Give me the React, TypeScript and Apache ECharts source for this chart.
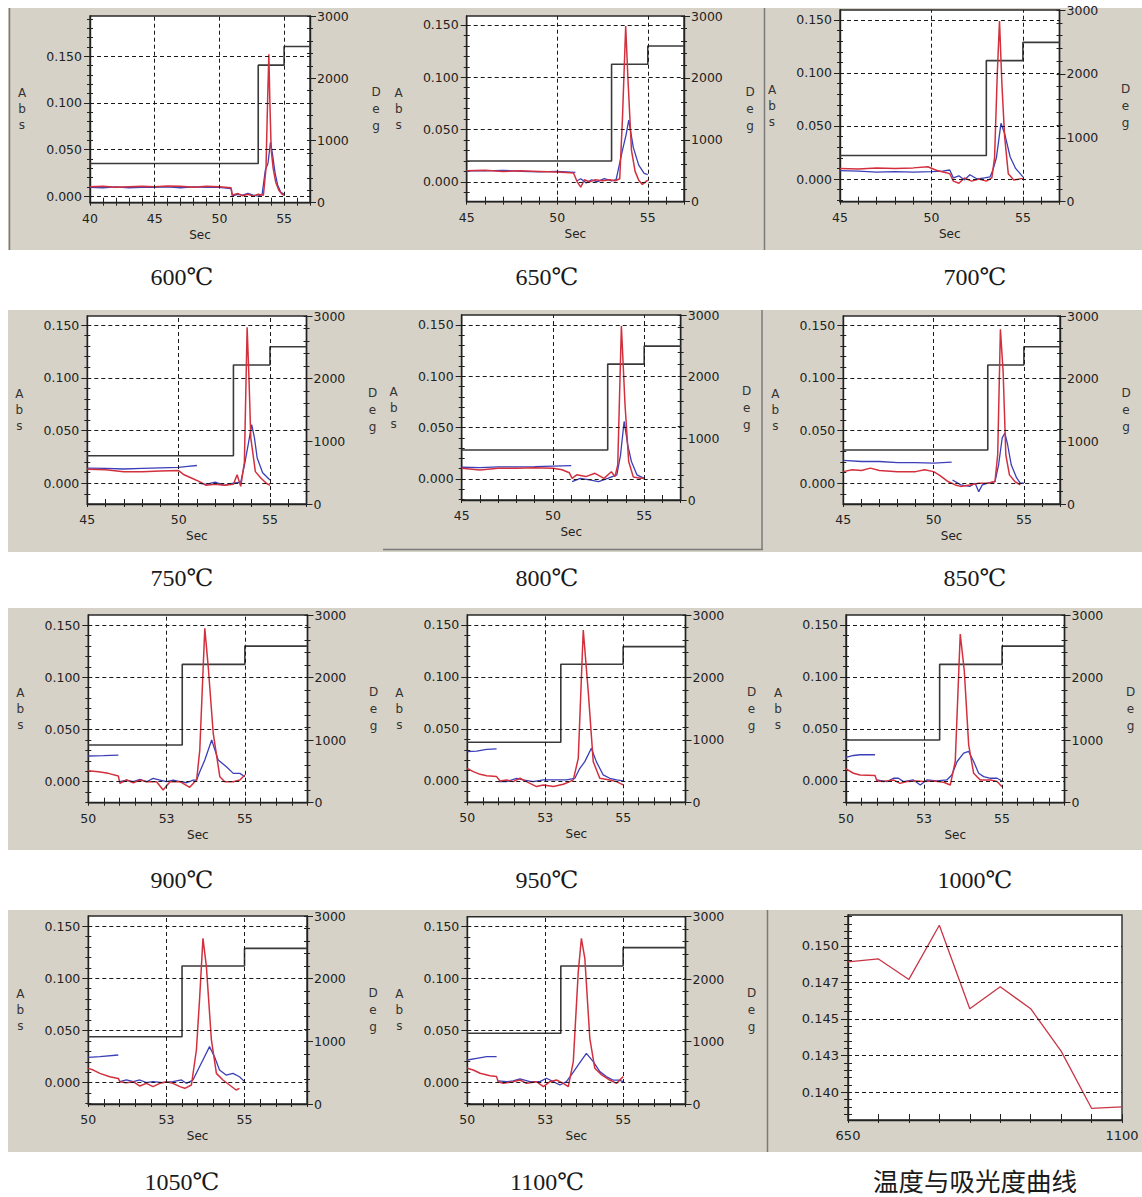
import React, { useEffect, useRef } from "react";
import * as echarts from "echarts";

// ---------- data: [Sec, Abs] pairs; null = break in the trace ----------
const red600 = [[40,0.010],[41,0.0105],[42,0.0095],[43,0.010],[44,0.0105],[45,0.010],[46,0.011],[47,0.0105],[48,0.0095],[49,0.0105],[50,0.010],[50.9,0.009],[51.0,0.001],[51.4,0.003],[51.8,0.0005],[52.2,0.002],[52.6,0.0],[53.0,0.002],[53.4,0.001],[53.6,0.03],[53.72,0.10],[53.82,0.152],[53.9,0.10],[54.0,0.05],[54.15,0.03],[54.35,0.015],[54.6,0.006],[54.85,0.002],[55,0.001]];
const blue600 = [[40,0.0095],[41,0.009],[42,0.010],[43,0.009],[44,0.0095],[45,0.0095],[46,0.010],[47,0.009],[48,0.010],[49,0.0095],[50,0.0095],[50.9,0.008],[51.0,0.0],[51.4,0.002],[51.8,0.001],[52.2,0.003],[52.6,0.001],[53.0,0.0],[53.3,0.002],[53.55,0.028],[53.75,0.035],[53.95,0.058],[54.1,0.045],[54.3,0.025],[54.5,0.012],[54.75,0.004],[55,0.002]];
const prog600 = [[40,630],[53,2210],[55,2510],[57,2510]];

const red650 = [[45,0.0105],[46,0.011],[47,0.010],[48,0.0105],[49,0.010],[50,0.0095],[50.9,0.0085],[51.1,0.0],[51.3,-0.005],[51.5,0.002],[51.8,0.0],[52.1,0.002],[52.5,0.001],[52.9,0.002],[53.2,0.001],[53.45,0.003],[53.6,0.06],[53.78,0.149],[53.9,0.10],[54.1,0.03],[54.3,0.01],[54.5,0.0016],[54.7,-0.0025],[55,0.0016]];
const blue650 = [[45,0.0105],[46,0.0105],[47,0.011],[48,0.010],[49,0.0095],[50,0.010],[51,0.009],[51.05,null],[51.1,0.001],[51.3,0.003],[51.6,-0.001],[51.9,0.002],[52.2,0.0],[52.6,0.003],[53.0,0.001],[53.25,0.002],[53.35,0.01],[53.6,0.03],[53.8,0.045],[53.95,0.059],[54.2,0.033],[54.5,0.016],[54.8,0.008],[55,0.007]];
const prog650 = [[45,657],[53,2220],[55,2515],[57,2515]];

const red700 = [[45,0.010],[46,0.0095],[47,0.0105],[48,0.010],[49,0.0105],[49.8,0.0115],[50.3,0.008],[50.8,0.006],[51.0,0.005],[51.2,-0.002],[51.5,-0.004],[51.8,0.001],[52.2,-0.002],[52.6,0.0],[53.0,-0.002],[53.3,0.001],[53.45,0.02],[53.6,0.10],[53.72,0.149],[53.85,0.09],[54.0,0.04],[54.2,0.005],[54.5,-0.001],[54.8,0.0],[55,0.0006]];
const blue700 = [[45,0.008],[46,0.0075],[47,0.0065],[48,0.007],[49,0.0065],[50,0.007],[50.6,0.0075],[51,0.0085],[51.2,0.001],[51.5,0.003],[51.8,-0.001],[52.1,0.004],[52.5,0.0],[52.9,0.001],[53.2,0.002],[53.35,0.008],[53.55,0.02],[53.8,0.0525],[54.0,0.043],[54.3,0.021],[54.6,0.01],[55,0.002]];
const prog700 = [[45,723],[53,2208],[55,2494],[57,2494]];

const red750 = [[45,0.0133],[46,0.0127],[47,0.011],[48,0.011],[49,0.0115],[50,0.012],[50.3,0.008],[50.7,0.005],[51.2,0.001],[51.5,-0.002],[52,-0.001],[52.5,-0.002],[53,-0.001],[53.2,0.008],[53.4,-0.003],[53.6,0.02],[53.75,0.148],[53.85,0.10],[53.95,0.043],[54.2,0.011],[54.5,0.005],[54.8,0.0],[55,-0.002]];
const blue750 = [[45,0.0143],[46,0.014],[47,0.0135],[48,0.014],[49,0.0145],[50,0.015],[50.5,0.016],[51,0.0168],[51.05,null],[51.1,0.0],[51.5,-0.001],[52,0.001],[52.5,-0.002],[53,0.0],[53.4,0.001],[53.6,0.017],[53.8,0.036],[54.0,0.0555],[54.15,0.043],[54.3,0.024],[54.6,0.01],[55,0.003]];
const prog750 = [[45,770],[53,2217],[55,2509],[57,2509]];

const red800 = [[45,0.0104],[46,0.0088],[47,0.0104],[48,0.0104],[49,0.011],[50,0.0104],[50.5,0.009],[50.9,0.006],[51.05,0.0006],[51.3,0.004],[51.8,0.0023],[52.3,0.0055],[52.8,0.0006],[53.2,0.007],[53.4,0.0023],[53.55,0.0136],[53.75,0.149],[53.95,0.072],[54.15,0.017],[54.4,0.002],[54.8,0.0006],[55,0.0006]];
const blue800 = [[45,0.0114],[46,0.011],[47,0.0117],[48,0.0117],[49,0.012],[50,0.0125],[51,0.013],[51.03,null],[51.05,-0.0026],[51.5,0.0006],[52,-0.001],[52.5,-0.0026],[53,0.0006],[53.5,0.004],[53.7,0.023],[53.9,0.056],[54.1,0.033],[54.3,0.017],[54.6,0.004],[55,0.0006]];
const prog800 = [[45,810],[53,2204],[55,2496],[57,2496]];

const red850 = [[45,0.011],[45.5,0.0127],[46,0.012],[46.5,0.0143],[47,0.012],[48,0.011],[49,0.011],[49.5,0.0127],[50,0.011],[50.3,0.0079],[50.8,0.0016],[51.2,-0.0016],[51.5,-0.003],[52,-0.0016],[52.5,0.0],[53,0.0],[53.4,0.0016],[53.55,0.027],[53.7,0.146],[53.85,0.106],[54.0,0.027],[54.2,0.0079],[54.5,0.0016],[54.8,-0.0016]];
const blue850 = [[45,0.0216],[46,0.0206],[47,0.0206],[48,0.0196],[49,0.0196],[50,0.019],[51,0.020],[51.03,null],[51.05,0.003],[51.5,-0.0016],[52,-0.003],[52.3,0.0],[52.5,-0.008],[52.7,-0.0016],[53,0.0],[53.4,0.0016],[53.6,0.0175],[53.8,0.043],[53.95,0.0476],[54.1,0.0365],[54.3,0.0175],[54.6,0.005],[54.8,0.0],[55,0.0]];
const prog850 = [[45,861],[53,2217],[55,2509],[57,2509]];

const red900 = [[50,0.0105],[50.32,0.0096],[50.64,0.008],[50.96,0.0054],[51.01,-0.0016],[51.22,0.0016],[51.44,-0.001],[51.65,0.0016],[51.86,0.0],[52.18,0.0],[52.39,-0.008],[52.61,0.0],[52.93,0.0],[53.24,-0.0054],[53.4,0.0],[53.46,0.0016],[53.56,0.0303],[53.72,0.1468],[53.83,0.110],[53.99,0.0463],[54.2,0.0048],[54.36,0.0],[54.63,0.0],[54.84,0.0016],[55,0.0064]];
const blue900 = [[50,0.0246],[50.48,0.0249],[50.96,0.0255],[50.99,null],[51.01,0.0],[51.22,0.0016],[51.44,0.0],[51.65,0.0022],[51.86,0.0],[52.07,0.0032],[52.29,0.0016],[52.5,0.0],[52.71,0.0016],[52.93,0.0],[53.14,-0.001],[53.35,0.0016],[53.46,0.0016],[53.56,0.0096],[53.72,0.0207],[53.94,0.0399],[54.15,0.0207],[54.41,0.0144],[54.63,0.008],[54.84,0.008],[55,0.0048]];
const prog900 = [[50,922],[53,2211],[55,2503],[57,2503]];

const red950 = [[50,0.0122],[50.19,0.009],[50.41,0.0064],[50.62,0.0051],[50.94,0.0042],[51.05,0.0],[51.26,0.001],[51.47,-0.0006],[51.69,0.0026],[51.9,-0.0006],[52.22,-0.0054],[52.44,-0.0038],[52.76,-0.0054],[53.08,-0.0032],[53.29,-0.0006],[53.4,0.001],[53.56,0.0218],[53.72,0.1452],[53.88,0.0859],[54.04,0.0186],[54.25,0.0026],[54.57,0.001],[54.79,-0.0006],[55,-0.0038]];
const blue950 = [[50,0.0282],[50.3,0.0288],[50.62,0.0304],[50.94,0.0308],[50.97,null],[51.0,-0.0006],[51.26,-0.0006],[51.58,0.0026],[51.79,0.001],[52.11,-0.0006],[52.44,0.001],[52.76,0.001],[53.18,0.001],[53.45,0.0026],[53.61,0.0122],[53.77,0.0186],[53.98,0.0314],[54.14,0.0186],[54.36,0.0058],[54.57,0.0026],[54.79,0.001],[55,0.0]];
const prog950 = [[50,961],[53,2211],[55,2494],[57,2494]];

const red1000 = [[50,0.0116],[50.24,0.0074],[50.45,0.0058],[50.93,0.0052],[50.99,0.0],[51.2,-0.0006],[51.52,0.001],[51.73,-0.0023],[51.95,-0.0006],[52.27,0.0],[52.48,-0.0006],[52.81,0.0],[53.13,-0.0013],[53.34,-0.0039],[53.5,0.0187],[53.66,0.1413],[53.79,0.1058],[53.93,0.0348],[54.09,0.0074],[54.3,0.001],[54.63,0.001],[54.84,-0.0006],[55,-0.0055]];
const blue1000 = [[50,0.0226],[50.24,0.0245],[50.45,0.0252],[50.93,0.0252],[50.96,null],[50.99,0.001],[51.31,-0.0006],[51.52,0.0026],[51.68,0.0026],[51.84,-0.0006],[52.16,0.001],[52.38,-0.0039],[52.59,0.001],[52.91,0.0],[53.23,0.001],[53.39,0.0058],[53.56,0.0187],[53.77,0.0268],[53.93,0.0284],[54.09,0.0187],[54.25,0.0074],[54.41,0.0042],[54.63,0.0026],[54.84,0.0026],[55,0.0]];
const prog1000 = [[50,1002],[53,2211],[55,2503],[57,2503]];

const red1050 = [[50,0.0137],[50.16,0.0121],[50.37,0.0089],[50.69,0.0057],[50.96,0.0041],[51.01,0.001],[51.22,0.0],[51.44,0.001],[51.65,-0.0032],[51.86,-0.0006],[52.07,-0.0038],[52.29,-0.0006],[52.5,0.001],[52.71,-0.0006],[52.93,-0.0038],[53.09,-0.0054],[53.3,-0.0022],[53.46,0.0313],[53.56,0.0792],[53.67,0.1382],[53.78,0.1111],[53.94,0.0409],[54.1,0.0089],[54.31,0.0026],[54.52,-0.0022],[54.73,-0.007],[54.84,-0.0054]];
const blue1050 = [[50,0.0243],[50.37,0.0249],[50.96,0.0265],[50.99,null],[51.01,0.001],[51.22,0.0026],[51.44,0.001],[51.65,0.0026],[51.86,0.0],[52.07,0.001],[52.39,0.0],[52.71,0.001],[52.98,0.0026],[53.14,-0.0006],[53.35,0.0026],[53.56,0.0153],[53.72,0.0249],[53.88,0.0345],[54.04,0.0249],[54.2,0.0121],[54.41,0.0073],[54.63,0.0089],[54.84,0.0057],[55,0.001]];
const prog1050 = [[50,1073],[53,2201],[55,2483],[57,2483]];

const red1100 = [[50,0.0135],[50.19,0.0119],[50.41,0.0087],[50.73,0.0064],[50.94,0.0055],[50.99,0.0006],[51.15,-0.001],[51.47,0.0006],[51.69,0.0022],[51.9,-0.001],[52.22,0.0006],[52.44,-0.0042],[52.65,0.0006],[52.86,0.0022],[53.08,-0.001],[53.24,-0.0042],[53.4,0.0199],[53.56,0.1066],[53.66,0.1387],[53.77,0.1195],[53.93,0.0424],[54.09,0.0135],[54.31,0.0071],[54.57,0.0022],[54.79,-0.001],[55,0.0055]];
const blue1100 = [[50,0.0215],[50.3,0.0231],[50.62,0.0247],[50.94,0.0247],[50.97,null],[50.99,0.0013],[51.26,0.0006],[51.47,0.0013],[51.69,0.0032],[52.01,0.0006],[52.33,0.0006],[52.54,0.0039],[52.76,0.0006],[52.97,-0.0026],[53.18,0.0006],[53.34,0.0071],[53.56,0.0167],[53.82,0.0279],[54.04,0.0199],[54.25,0.0103],[54.46,0.0055],[54.67,0.0022],[54.87,0.0022],[55,0.0006]];
const prog1100 = [[50,1133],[53,2211],[55,2505],[57,2505]];

// summary curve: ashing temperature vs peak absorbance
const curveTemps = [650, 700, 750, 800, 850, 900, 950, 1000, 1050, 1100];
const curvePeakAbs = [0.1489, 0.1491, 0.1477, 0.1514, 0.1457, 0.1472, 0.1457, 0.1428, 0.1389, 0.1390];

// tick labels
const absMajor = [0, 0.05, 0.1, 0.15];
const secLabelsWide = [40, 45, 50, 55];
const secTicksNarrow = [50, 52.5, 55];
const secLabelsNarrow = ["50", "53", "55"];
const curveAbsTicks = [0.140, 0.1425, 0.145, 0.1475, 0.150];
const curveAbsLabels = ["0.140", "0.143", "0.145", "0.147", "0.150"];
const curveTempLabels = [650, 1100];
const captions = ["600℃", "650℃", "700℃", "750℃", "800℃", "850℃", "900℃", "950℃", "1000℃", "1050℃", "1100℃"];
const curveCaption = "温度与吸光度曲线";

const runs = [
  { red: red600, blue: blue600, prog: prog600 },
  { red: red650, blue: blue650, prog: prog650 },
  { red: red700, blue: blue700, prog: prog700 },
  { red: red750, blue: blue750, prog: prog750 },
  { red: red800, blue: blue800, prog: prog800 },
  { red: red850, blue: blue850, prog: prog850 },
  { red: red900, blue: blue900, prog: prog900 },
  { red: red950, blue: blue950, prog: prog950 },
  { red: red1000, blue: blue1000, prog: prog1000 },
  { red: red1050, blue: blue1050, prog: prog1050 },
  { red: red1100, blue: blue1100, prog: prog1100 },
];

// ---------- layout (pixels) ----------
const layout = [
  { box: [90, 16, 310, 202.7], yr: [-0.007, 0.193], xr: [40, 57], xs: 1, vl: [45, 50, 55], bg: [8, 8, 380, 242], cap: [182, 277] },
  { box: [466.7, 16, 684, 201.7], yr: [-0.019, 0.1586], xr: [45, 57], xs: 1, vl: [50, 55], bg: [388, 8, 377, 242], cap: [547, 277] },
  { box: [840, 10, 1059.5, 201.7], yr: [-0.0214, 0.1594], xr: [45, 57], xs: 1, vl: [50, 55], bg: [765, 8, 377, 242], cap: [975, 277] },
  { box: [87.3, 316, 306.5, 504], yr: [-0.0197, 0.1586], xr: [45, 57], xs: 1, vl: [50, 55], bg: [8, 310, 375, 242], cap: [182, 578] },
  { box: [461.7, 315, 680.7, 500], yr: [-0.0205, 0.1597], xr: [45, 57], xs: 1, vl: [50, 55], bg: [383, 310, 380, 242], cap: [547, 578] },
  { box: [843.3, 316, 1060, 504], yr: [-0.0197, 0.1586], xr: [45, 57], xs: 1, vl: [50, 55], bg: [763, 310, 379, 242], cap: [975, 578] },
  { box: [88.3, 615, 307.5, 802.7], yr: [-0.0201, 0.1596], xr: [50, 57], xs: 0.5, vl: [52.5, 55], bg: [8, 608, 377, 242], cap: [182, 880] },
  { box: [467.3, 615, 685.5, 802.3], yr: [-0.0205, 0.1596], xr: [50, 57], xs: 0.5, vl: [52.5, 55], bg: [385, 608, 380, 242], cap: [547, 880] },
  { box: [846, 615, 1064.5, 802.7], yr: [-0.0209, 0.1596], xr: [50, 57], xs: 0.5, vl: [52.5, 55], bg: [765, 608, 377, 242], cap: [975, 880] },
  { box: [88.3, 916, 307, 1104], yr: [-0.0204, 0.1596], xr: [50, 57], xs: 0.5, vl: [52.5, 55], bg: [8, 910, 377, 242], cap: [182, 1182] },
  { box: [467.3, 916.7, 685.5, 1104], yr: [-0.0209, 0.1596], xr: [50, 57], xs: 0.5, vl: [52.5, 55], bg: [385, 910, 380, 242], cap: [547, 1182] },
];
const curveLayout = { box: [848, 915, 1122, 1120], yr: [0.1381, 0.1521], bg: [765, 910, 377, 242], cap: [975, 1179] };

const PANEL_BG = "#d6d2c7";
const INK = "#222";
const FONT = "DejaVu Sans, Verdana, sans-serif";
const SERIF = "Liberation Serif, DejaVu Serif, serif";
const RED = "#d3303e";
const BLUE = "#3b3fb8";

function ticksBetween(lo: number, hi: number, step: number) {
  const out: number[] = [];
  const k0 = Math.ceil(lo / step - 1e-9);
  for (let k = k0; k * step <= hi + 1e-9; k++) out.push(Number((k * step).toFixed(6)));
  return out;
}

function txt(text: string, x: number, y: number, size: number, family: string, extra: any = {}) {
  return {
    type: "text",
    silent: true,
    z: 20,
    style: {
      text, x, y, fill: "#1a1a1a", fontSize: size, fontFamily: family,
      align: "center", verticalAlign: "middle", textAlign: "center", textVerticalAlign: "middle",
      ...extra,
    },
  };
}

function gridMarks(values: number[], vals: number[]) {
  return {
    silent: true,
    precision: 8,
    symbol: ["none", "none"],
    label: { show: false },
    emphasis: { disabled: true },
    lineStyle: { type: [4, 3], color: "#1a1a1a", width: 1 },
    data: [...values.map((v) => ({ yAxis: v })), ...vals.map((v) => ({ xAxis: v }))],
  };
}

function buildOption() {
  const grid: any[] = [];
  const xAxis: any[] = [];
  const yAxis: any[] = [];
  const series: any[] = [];
  const graphic: any[] = [];

  const allBg = [...layout.map((l) => l.bg), curveLayout.bg];
  allBg.forEach((b) =>
    graphic.push({ type: "rect", silent: true, z: -10, shape: { x: b[0], y: b[1], width: b[2], height: b[3] }, style: { fill: PANEL_BG } })
  );
  // panel frame lines
  const frameLines = [
    [9.5, 8, 9.5, 250],
    [762, 310, 762, 550],
    [383, 549.5, 763, 549.5],
    [767.5, 910, 767.5, 1152],
    [764.5, 8, 764.5, 250],
  ];
  frameLines.forEach((f) =>
    graphic.push({ type: "line", silent: true, z: -5, shape: { x1: f[0], y1: f[1], x2: f[2], y2: f[3] }, style: { stroke: "#7a7a7a", lineWidth: 1.5 } })
  );

  runs.forEach((run, i) => {
    const L = layout[i];
    const [l, t, r, b] = L.box;
    const gi = grid.length;
    grid.push({ left: l, top: t, width: r - l, height: b - t, show: true, backgroundColor: "#fff", borderColor: "#2a2a2a", borderWidth: 1.4, z: 0 });

    const narrow = L.xs < 1;
    const labVals = narrow ? secTicksNarrow : secLabelsWide;
    const labTxt = narrow ? secLabelsNarrow : secLabelsWide.map(String);
    const xi = xAxis.length;
    xAxis.push({
      gridIndex: gi, type: "value", position: "bottom", min: L.xr[0], max: L.xr[1], interval: L.xs,
      axisLine: { show: true, onZero: false, lineStyle: { color: INK, width: 1.4 } },
      axisTick: { show: true, length: 3, lineStyle: { color: INK } },
      axisLabel: {
        color: INK, fontSize: 12.5, fontFamily: FONT, margin: 9,
        formatter: (v: number) => { const k = labVals.findIndex((q) => Math.abs(q - v) < 1e-6); return k >= 0 ? labTxt[k] : ""; },
      },
      splitLine: { show: false },
      name: "Sec", nameLocation: "middle", nameGap: 26,
      nameTextStyle: { color: INK, fontSize: 12, fontFamily: FONT },
    });
    xAxis.push({
      gridIndex: gi, type: "value", position: "bottom", min: L.xr[0], max: L.xr[1], interval: L.xs,
      axisLine: { show: false, onZero: false }, axisTick: { show: true, inside: true, length: 5, lineStyle: { color: INK } },
      axisLabel: { show: false }, splitLine: { show: false },
    });

    const minors = ticksBetween(L.yr[0], L.yr[1], 0.01);
    const yi = yAxis.length;
    yAxis.push({
      gridIndex: gi, type: "value", position: "left", min: L.yr[0], max: L.yr[1],
      axisLine: { show: true, onZero: false, lineStyle: { color: INK, width: 1.4 } },
      axisTick: { show: true, length: 6, customValues: absMajor, lineStyle: { color: INK } },
      axisLabel: { customValues: absMajor, color: INK, fontSize: 12.5, fontFamily: FONT, margin: 8, formatter: (v: number) => v.toFixed(3) },
      splitLine: { show: false },
    });
    yAxis.push({
      gridIndex: gi, type: "value", position: "left", min: L.yr[0], max: L.yr[1],
      axisLine: { show: false, onZero: false }, axisTick: { show: true, length: 3, customValues: minors, lineStyle: { color: INK } },
      axisLabel: { show: false }, splitLine: { show: false },
    });
    yAxis.push({
      gridIndex: gi, type: "value", position: "left", min: L.yr[0], max: L.yr[1],
      axisLine: { show: false, onZero: false }, axisTick: { show: true, inside: true, length: 3, customValues: minors, lineStyle: { color: INK } },
      axisLabel: { show: false }, splitLine: { show: false },
    });
    yAxis.push({
      gridIndex: gi, type: "value", position: "right", min: 0, max: 3000, interval: 1000,
      axisLine: { show: true, onZero: false, lineStyle: { color: INK, width: 1.4 } },
      axisTick: { show: true, length: 6, lineStyle: { color: INK } },
      minorTick: { show: true, splitNumber: 5, length: 3, lineStyle: { color: INK } },
      axisLabel: { color: INK, fontSize: 12.5, fontFamily: FONT, margin: 7, formatter: (v: number) => String(v) },
      splitLine: { show: false }, minorSplitLine: { show: false },
    });
    yAxis.push({
      gridIndex: gi, type: "value", position: "right", min: 0, max: 3000, interval: 1000,
      axisLine: { show: false, onZero: false },
      axisTick: { show: true, inside: true, length: 3, lineStyle: { color: INK } },
      minorTick: { show: true, splitNumber: 5, length: 3, lineStyle: { color: INK } },
      axisLabel: { show: false }, splitLine: { show: false },
    });

    series.push({
      type: "line", xAxisIndex: xi, yAxisIndex: yi, data: [], z: 1, silent: true,
      markLine: gridMarks(absMajor, L.vl),
    });
    series.push({
      type: "line", xAxisIndex: xi, yAxisIndex: yi + 3, data: run.prog, step: "end",
      showSymbol: false, symbol: "none", silent: true, z: 2,
      lineStyle: { color: "#3a3a3a", width: 1.6 },
    });
    series.push({
      type: "line", xAxisIndex: xi, yAxisIndex: yi, data: run.blue,
      showSymbol: false, symbol: "none", silent: true, z: 3, connectNulls: false,
      lineStyle: { color: BLUE, width: 1.3 },
    });
    series.push({
      type: "line", xAxisIndex: xi, yAxisIndex: yi, data: run.red,
      showSymbol: false, symbol: "none", silent: true, z: 4, connectNulls: false,
      lineStyle: { color: RED, width: 1.5 },
    });

    const cy = (t + b) / 2;
    graphic.push(txt("A\nb\ns", l - 68, cy, 12, FONT, { lineHeight: 16, fill: "#333" }));
    graphic.push(txt("D\ne\ng", r + 66, cy, 12, FONT, { lineHeight: 17, fill: "#333" }));
    graphic.push(txt(captions[i], L.cap[0], L.cap[1], 24, SERIF));
  });

  // summary panel
  {
    const C = curveLayout;
    const [l, t, r, b] = C.box;
    const gi = grid.length;
    grid.push({ left: l, top: t, width: r - l, height: b - t, show: true, backgroundColor: "#fff", borderColor: "#2a2a2a", borderWidth: 1.4 });
    const xi = xAxis.length;
    xAxis.push({
      gridIndex: gi, type: "value", position: "bottom", min: 650, max: 1100, interval: 50,
      axisLine: { show: true, onZero: false, lineStyle: { color: INK, width: 1.4 } },
      axisTick: { show: true, length: 3, lineStyle: { color: INK } },
      axisLabel: { color: INK, fontSize: 13, fontFamily: FONT, margin: 9, formatter: (v: number) => (curveTempLabels.includes(v) ? String(v) : "") },
      splitLine: { show: false },
    });
    xAxis.push({
      gridIndex: gi, type: "value", position: "bottom", min: 650, max: 1100, interval: 50,
      axisLine: { show: false, onZero: false }, axisTick: { show: true, inside: true, length: 6, lineStyle: { color: INK } },
      axisLabel: { show: false }, splitLine: { show: false },
    });
    const minors = ticksBetween(C.yr[0], C.yr[1], 0.0005);
    const yi = yAxis.length;
    yAxis.push({
      gridIndex: gi, type: "value", position: "left", min: C.yr[0], max: C.yr[1],
      axisLine: { show: true, onZero: false, lineStyle: { color: INK, width: 1.4 } },
      axisTick: { show: true, length: 7, customValues: curveAbsTicks, lineStyle: { color: INK } },
      axisLabel: {
        customValues: curveAbsTicks, color: INK, fontSize: 13, fontFamily: FONT, margin: 9,
        formatter: (v: number) => { const k = curveAbsTicks.findIndex((q) => Math.abs(q - v) < 1e-7); return k >= 0 ? curveAbsLabels[k] : ""; },
      },
      splitLine: { show: false },
    });
    yAxis.push({
      gridIndex: gi, type: "value", position: "left", min: C.yr[0], max: C.yr[1],
      axisLine: { show: false, onZero: false }, axisTick: { show: true, length: 4, customValues: minors, lineStyle: { color: INK } },
      axisLabel: { show: false }, splitLine: { show: false },
    });
    yAxis.push({
      gridIndex: gi, type: "value", position: "left", min: C.yr[0], max: C.yr[1],
      axisLine: { show: false, onZero: false }, axisTick: { show: true, inside: true, length: 4, customValues: minors, lineStyle: { color: INK } },
      axisLabel: { show: false }, splitLine: { show: false },
    });
    series.push({ type: "line", xAxisIndex: xi, yAxisIndex: yi, data: [], z: 1, silent: true, markLine: gridMarks(curveAbsTicks, []) });
    series.push({
      type: "line", xAxisIndex: xi, yAxisIndex: yi, data: curveTemps.map((tp, k) => [tp, curvePeakAbs[k]]),
      showSymbol: false, symbol: "none", silent: true, z: 4, lineStyle: { color: "#c83545", width: 1.3 },
    });
    graphic.push(txt(curveCaption, C.cap[0], C.cap[1], 25.5, "Noto Sans CJK SC, sans-serif"));
  }

  return { animation: false, backgroundColor: "#ffffff", grid, xAxis, yAxis, series, graphic };
}

export default function App() {
  const ref = useRef<HTMLDivElement>(null);
  useEffect(() => {
    document.body.style.margin = "0";
    const chart = echarts.init(ref.current as HTMLDivElement, undefined, { renderer: "svg", width: 1142, height: 1197 });
    chart.setOption(buildOption() as any);
    return () => chart.dispose();
  }, []);
  return <div ref={ref} style={{ position: "absolute", left: 0, top: 0, width: 1142, height: 1197 }} />;
}
